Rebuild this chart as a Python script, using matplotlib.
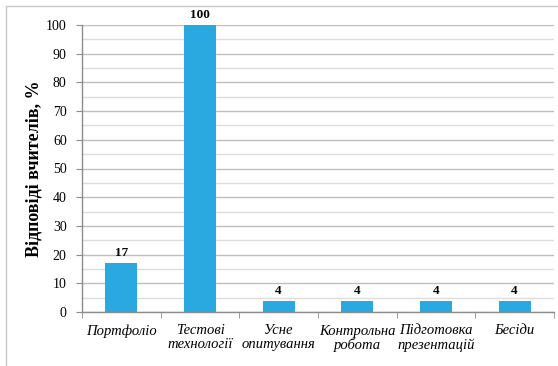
import matplotlib
matplotlib.use("Agg")
import matplotlib.pyplot as plt
from matplotlib.patches import Rectangle

categories = ["Портфоліо", "Тестові\nтехнології", "Усне\nопитування",
              "Контрольна\nробота", "Підготовка\nпрезентацій", "Бесіди"]
values = [17, 100, 4, 4, 4, 4]
y_ticks = [0, 10, 20, 30, 40, 50, 60, 70, 80, 90, 100]

plt.rcParams["font.family"] = ["Liberation Serif", "DejaVu Serif"]

fig = plt.figure(figsize=(5.58, 3.66), dpi=100)
fig.patches.append(Rectangle((6 / 558, -0.1), 1.2, (366 - 6) / 366 + 0.1,
                             transform=fig.transFigure, fill=False,
                             edgecolor="#c8c8c8", linewidth=1.0))

ax = fig.add_axes([82 / 558, 1 - 312 / 366, (554 - 82) / 558, (312 - 25) / 366])
x = list(range(len(categories)))
ax.bar(x, values, width=0.41, color="#2aa9e0", zorder=3)
ax.set_xlim(-0.5, len(categories) - 0.5)
ax.set_ylim(0, 100)

for xi, v in zip(x, values):
    ax.text(xi, v + 1.3, str(v), ha="center", va="bottom", fontsize=9.5,
            fontweight="bold", zorder=4)

ax.set_yticks(y_ticks)
ax.set_yticklabels([str(t) for t in y_ticks], fontsize=10)
ax.set_yticks(range(5, 100, 10), minor=True)
ax.yaxis.grid(True, which="major", color="#bfbfbf", linewidth=1.0, zorder=0)
ax.yaxis.grid(True, which="minor", color="#dcdcdc", linewidth=1.0, zorder=0)
ax.tick_params(axis="y", which="major", length=4, color="#8c8c8c", pad=7)
ax.tick_params(axis="y", which="minor", length=0)

ax.set_xticks(x)
ax.set_xticklabels(categories, fontsize=10.5, fontstyle="italic", linespacing=1.05)
ax.set_xticks([i + 0.5 for i in range(-1, len(categories))], minor=True)
ax.tick_params(axis="x", which="major", length=0, pad=9)
ax.tick_params(axis="x", which="minor", length=4, color="#8c8c8c")

for side in ("top", "right"):
    ax.spines[side].set_visible(False)
for side in ("left", "bottom"):
    ax.spines[side].set_color("#8c8c8c")
    ax.spines[side].set_linewidth(1.0)

ax.set_ylabel("Відповіді вчителів, %", fontsize=13, fontweight="bold")
ax.yaxis.set_label_coords(-0.083, 0.5)

fig.savefig("out.png", dpi=100)
